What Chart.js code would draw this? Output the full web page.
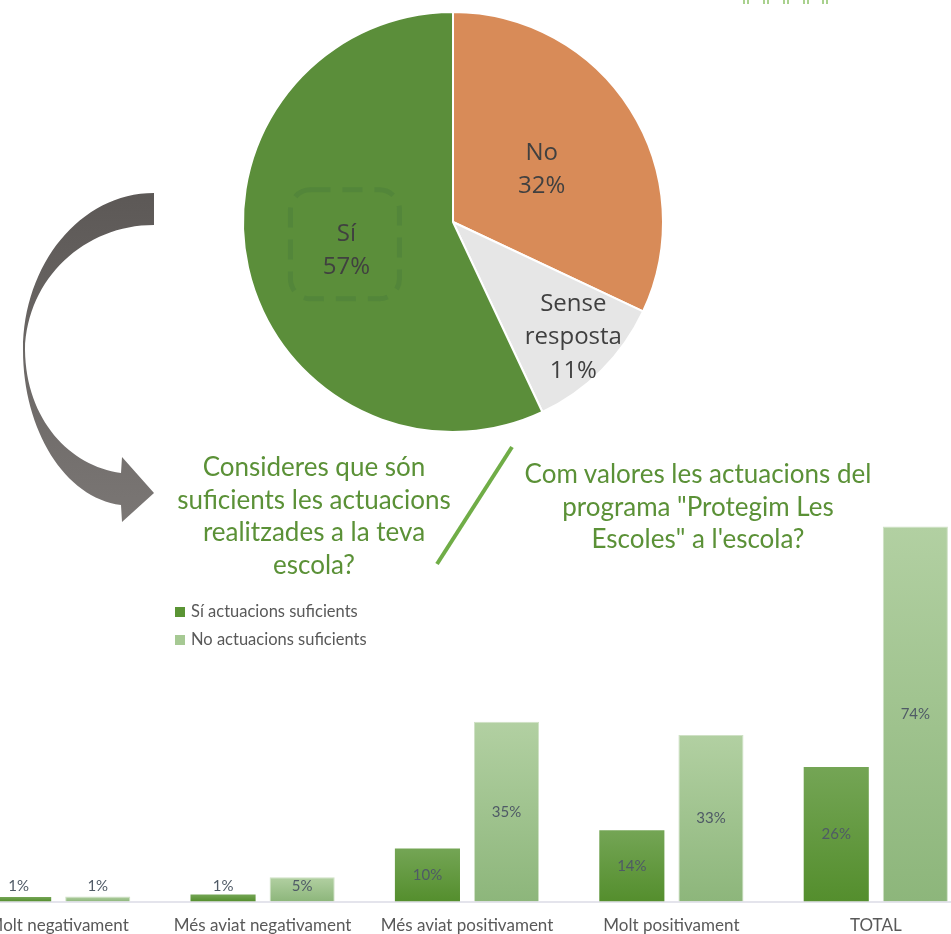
<!DOCTYPE html>
<html>
<head>
<meta charset="utf-8">
<script src="https://cdn.jsdelivr.net/npm/chart.js@4.4.1/dist/chart.umd.min.js"></script>
<style>
  body { margin: 0; background: #fff; overflow: hidden; }
  #wrap { position: relative; width: 951px; height: 934px; overflow: hidden; }
  #pieBox { position: absolute; left: 0; top: 0; width: 951px; height: 590px; }
  #barBox { position: absolute; left: -44px; top: 490px; width: 1022px; height: 460px; }
  .titol { position: absolute; color: #5b9137; font-family: Lato, sans-serif; font-size: 26px; line-height: 32.5px; text-align: center; white-space: nowrap; }
  #titol1 { left: 114px; width: 400px; top: 450px; }
  #titol2 { left: 498px; width: 400px; top: 457px; }
  #llegenda { position: absolute; left: 175px; top: 600px; font-family: Lato, sans-serif; font-size: 16.5px; color: #595959; }
  #llegenda div { height: 28px; line-height: 22px; white-space: nowrap; }
  #llegenda span { display: inline-block; width: 10px; height: 10px; margin-right: 6px; vertical-align: 0px; }
</style>
</head>
<body>
<div id="wrap">
  <div id="pieBox"><canvas id="pieChart"></canvas></div>
  <div id="barBox"><canvas id="barChart"></canvas></div>
  <div class="titol" id="titol1">Consideres que són<br>suficients les actuacions<br>realitzades a la teva<br>escola?</div>
  <div class="titol" id="titol2">Com valores les actuacions del<br>programa "Protegim Les<br>Escoles" a l'escola?</div>
  <div id="llegenda"></div>
</div>
<script>
// Dades del pastís (actuacions suficients?)
const etiquetesPastis = ['No', 'Sense resposta', 'Sí'];
const valorsPastis = [32, 11, 57];

// Dades de les barres (valoració del programa)
const categories = ['Molt negativament', 'Més aviat negativament', 'Més aviat positivament', 'Molt positivament', 'TOTAL'];
const siSuficients = [0.9, 1.4, 10.4, 14, 26.4];
const noSuficients = [1, 4.8, 35.3, 32.7, 73.6];
const nomsSeries = ['Sí actuacions suficients', 'No actuacions suficients'];

// Etiquetes dins de cada porció + requadre discontinu al "Sí"
const radiEtiqueta = [0.5, 0.79, 0.52];
const desplEtiqueta = [[0, 4], [3, -2], [0, 5]];
const textPastis = {
    id: 'textPastis',
    afterDatasetsDraw(chart) {
        const ctx = chart.ctx;
        const meta = chart.getDatasetMeta(0);
        const dades = chart.data.datasets[0].data;
        meta.data.forEach((arc, i) => {
            const p = arc.getProps(['x', 'y', 'startAngle', 'endAngle', 'outerRadius'], true);
            const mig = (p.startAngle + p.endAngle) / 2;
            const r = p.outerRadius * radiEtiqueta[i];
            const cx = p.x + Math.cos(mig) * r + desplEtiqueta[i][0];
            const cy = p.y + Math.sin(mig) * r + desplEtiqueta[i][1];
            const linies = chart.data.labels[i].split(' ').concat([Math.round(dades[i]) + '%']);
            const alt = 33.5;
            ctx.save();
            if (i === 2) {
                ctx.strokeStyle = '#53863a';
                ctx.lineWidth = 5;
                ctx.setLineDash([20, 12]);
                ctx.beginPath();
                ctx.roundRect(cx - 56, cy - 61, 109, 109, 20);
                ctx.stroke();
                ctx.setLineDash([]);
            }
            ctx.fillStyle = '#404040';
            ctx.font = '24px "Open Sans"';
            ctx.textAlign = 'center';
            ctx.textBaseline = 'middle';
            linies.forEach((t, k) => {
                ctx.fillText(t, cx, cy + (k - (linies.length - 1) / 2) * alt);
            });
            ctx.restore();
        });
    }
};

// Fletxa corba, barra inclinada i detalls decoratius
const decoracio = {
    id: 'decoracio',
    beforeDraw(chart) {
        const ctx = chart.ctx;
        ctx.save();
        const g = ctx.createLinearGradient(0, 190, 0, 520);
        g.addColorStop(0, '#5c5856');
        g.addColorStop(1, '#7a7674');
        ctx.fillStyle = g;
        ctx.beginPath();
        ctx.moveTo(154, 193);
        ctx.bezierCurveTo(80, 193, 23, 265, 23, 350);
        ctx.bezierCurveTo(23, 430, 65, 498, 121, 505);
        ctx.lineTo(122, 522);
        ctx.lineTo(154, 493);
        ctx.lineTo(122, 457);
        ctx.lineTo(121, 473);
        ctx.bezierCurveTo(70, 466, 26, 420, 25, 350);
        ctx.bezierCurveTo(27, 278, 85, 225, 154, 225);
        ctx.closePath();
        ctx.fill();

        ctx.strokeStyle = '#70ad47';
        ctx.lineWidth = 4;
        ctx.beginPath();
        ctx.moveTo(512, 447);
        ctx.lineTo(437, 564);
        ctx.stroke();

        ctx.fillStyle = '#a9d18e';
        [743, 763, 783, 803, 822].forEach(x => {
            ctx.fillRect(x, 0, 2, 4);
            ctx.fillRect(x + 4, 0, 2, 4);
        });
        ctx.restore();
    }
};

const chartPie = document.getElementById('pieChart').getContext('2d');
new Chart(chartPie, {
    type: 'pie',
    data: {
        labels: etiquetesPastis,
        datasets: [{
            data: valorsPastis,
            backgroundColor: ['#d88b58', '#e6e6e6', '#5b8e3a'],
            borderColor: '#fff',
            borderWidth: 2
        }]
    },
    options: {
        responsive: true,
        maintainAspectRatio: false,
        animation: false,
        layout: { padding: { top: 11, bottom: 157, left: 242, right: 287 } },
        plugins: { legend: { display: false }, tooltip: { enabled: false } }
    },
    plugins: [decoracio, textPastis]
});

// Degradat vertical per a cada barra
function degradat(dalt, baix) {
    return function (c) {
        const chart = c.chart;
        const y = chart.scales.y;
        if (!chart.chartArea || !y || c.parsed === undefined) return baix;
        const top = y.getPixelForValue(c.parsed.y);
        const base = y.getPixelForValue(0);
        const g = chart.ctx.createLinearGradient(0, top, 0, base);
        g.addColorStop(0, dalt);
        g.addColorStop(1, baix);
        return g;
    };
}

// Percentatges dins de les barres
const valorsBarres = {
    id: 'valorsBarres',
    afterDatasetsDraw(chart) {
        const ctx = chart.ctx;
        ctx.save();
        ctx.font = '15px Lato';
        ctx.fillStyle = '#4f5a66';
        ctx.textAlign = 'center';
        ctx.textBaseline = 'middle';
        chart.data.datasets.forEach((ds, d) => {
            chart.getDatasetMeta(d).data.forEach((bar, i) => {
                const p = bar.getProps(['x', 'y', 'base'], true);
                const y = Math.min((p.y + p.base) / 2, p.base - 15);
                ctx.fillText(Math.round(ds.data[i]) + '%', p.x, y);
            });
        });
        ctx.restore();
    }
};

const chartBar = document.getElementById('barChart').getContext('2d');
const barres = new Chart(chartBar, {
    type: 'bar',
    data: {
        labels: categories,
        datasets: [
            {
                label: nomsSeries[0],
                data: siSuficients,
                backgroundColor: degradat('#74a555', '#548e2d'),
                borderColor: '#6a9c4c',
                borderWidth: 0,
                categoryPercentage: 0.774,
                barPercentage: 0.823
            },
            {
                label: nomsSeries[1],
                data: noSuficients,
                backgroundColor: degradat('#b2d0a2', '#8db67b'),
                borderColor: '#cfe1c5',
                borderWidth: 1,
                categoryPercentage: 0.774,
                barPercentage: 0.823
            }
        ]
    },
    options: {
        responsive: true,
        maintainAspectRatio: false,
        animation: false,
        layout: { padding: { top: 4, left: 0, right: 0, bottom: 0 } },
        scales: {
            y: { display: false, min: 0, max: 80 },
            x: {
                z: 1,
                grid: { display: false, drawTicks: false },
                border: { display: true, color: '#e4e4ec', width: 2 },
                ticks: { color: '#595959', font: { family: 'Lato', size: 17 }, padding: 14, maxRotation: 0, autoSkip: false }
            }
        },
        plugins: { legend: { display: false }, tooltip: { enabled: false } }
    },
    plugins: [valorsBarres]
});

// Llegenda en HTML
const colorsLlegenda = ['#5a9434', '#a6c993'];
document.getElementById('llegenda').innerHTML = barres.data.datasets.map((ds, i) =>
    '<div><span style="background:' + colorsLlegenda[i] + '"></span>' + ds.label + '</div>'
).join('');
</script>
</body>
</html>
